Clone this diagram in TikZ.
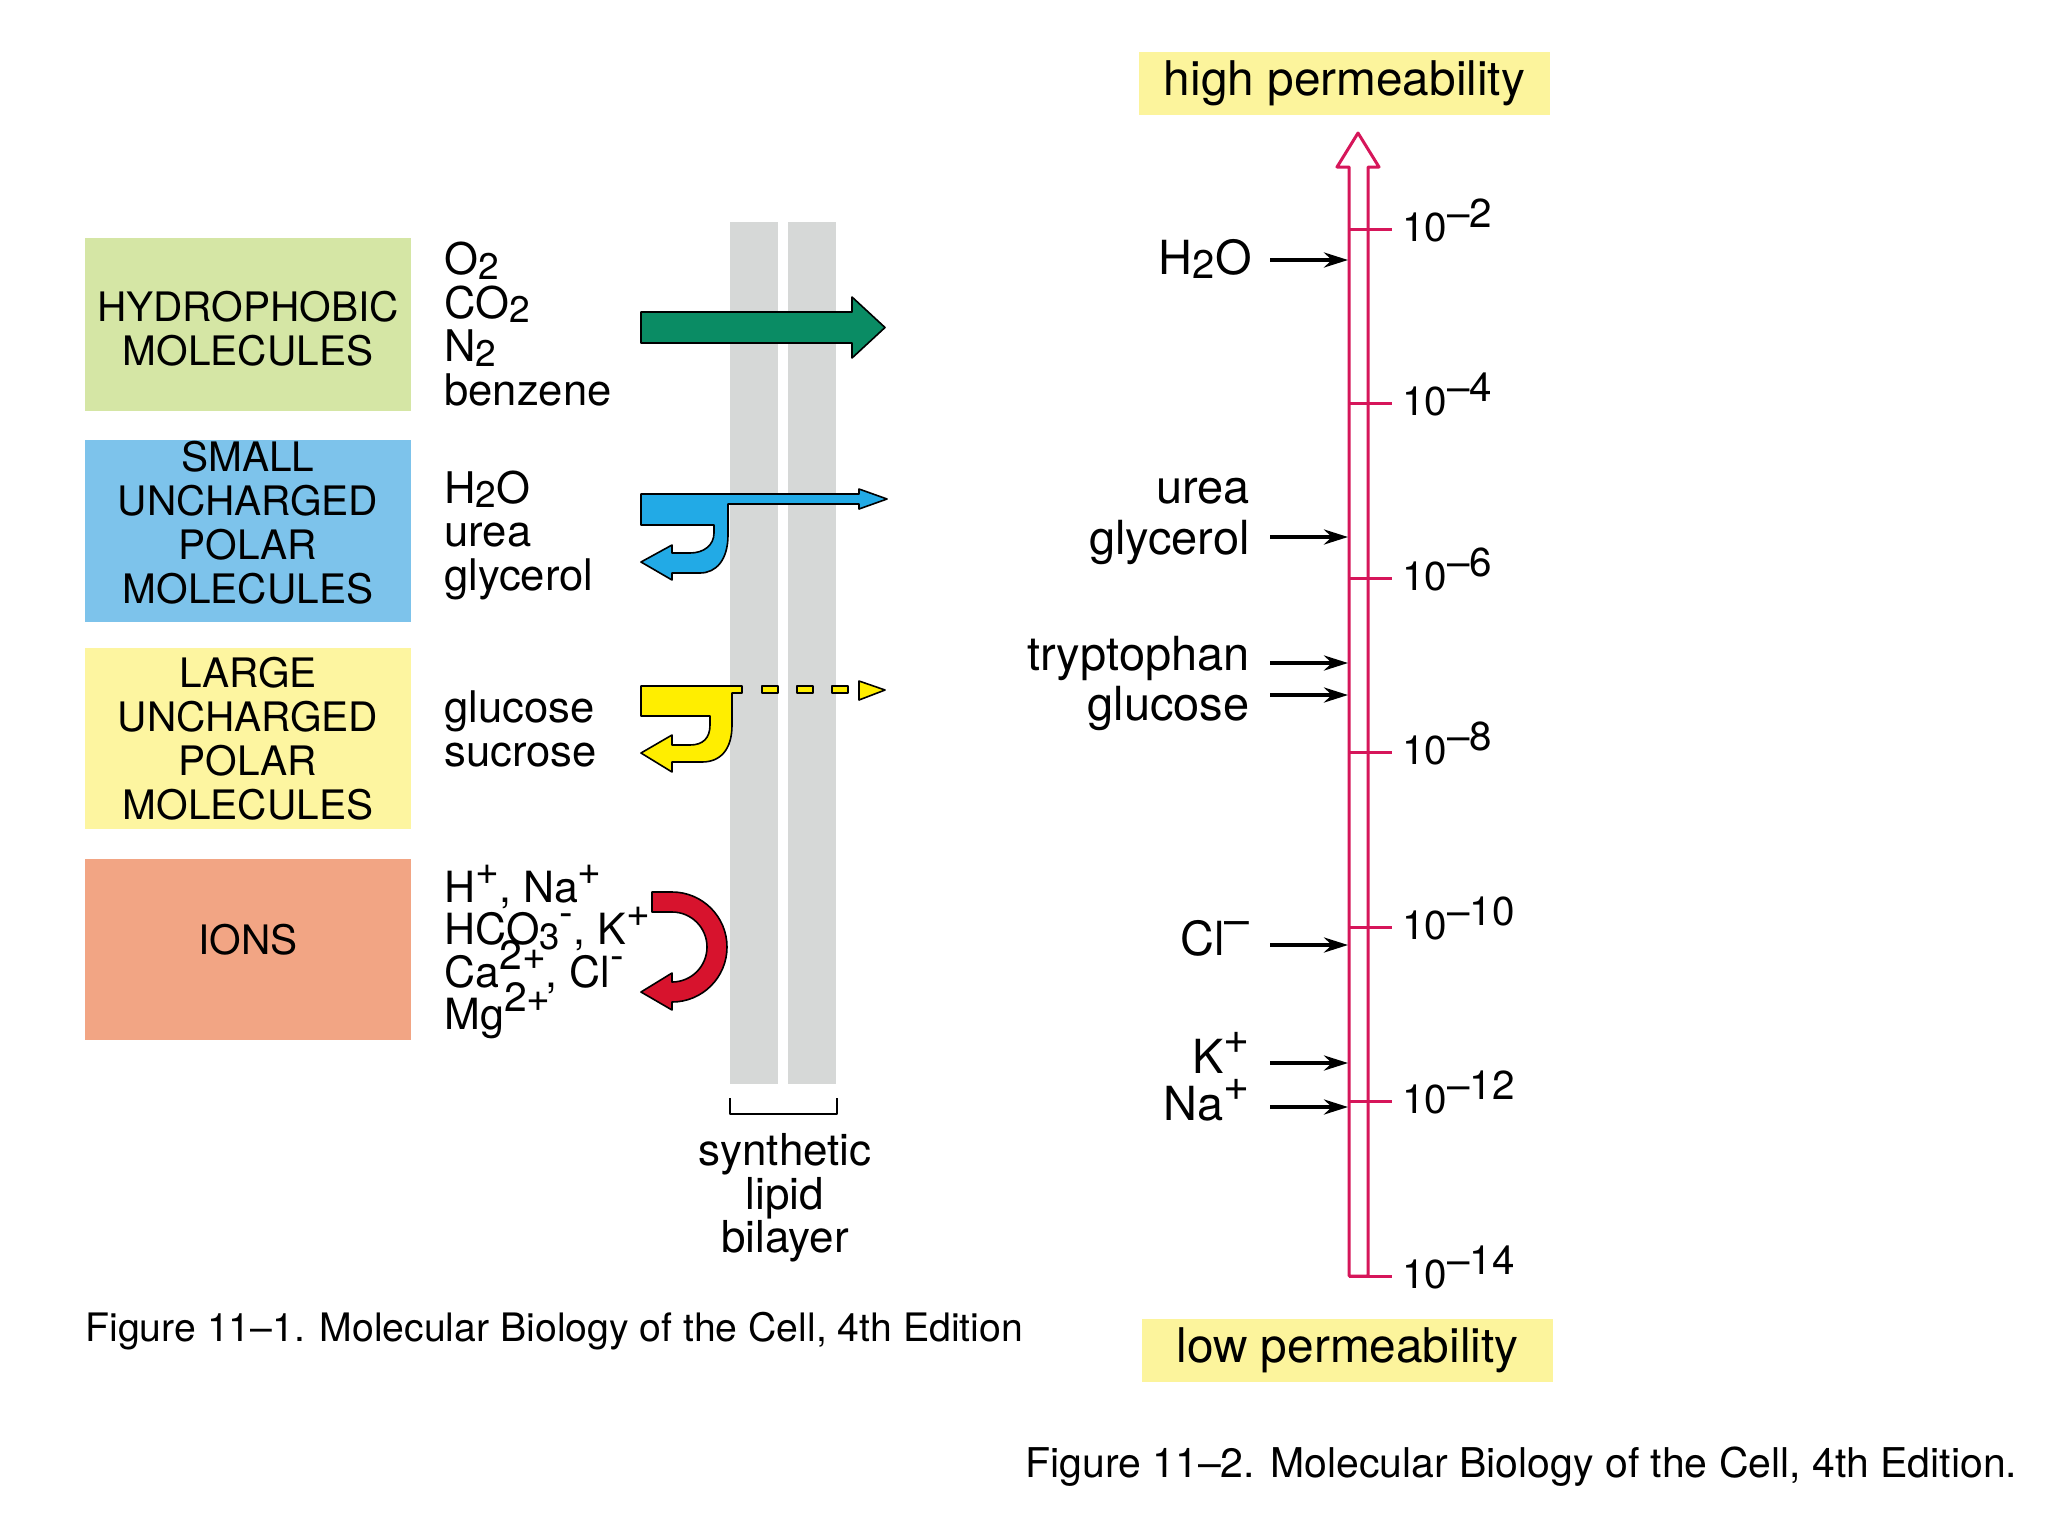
\documentclass[tikz,border=0pt]{standalone}
\usepackage{fontspec}
\setmainfont{TeX Gyre Heros}
\usetikzlibrary{arrows.meta}

\definecolor{hydrobox}{RGB}{213,230,165}
\definecolor{polarbox}{RGB}{125,195,235}
\definecolor{largebox}{RGB}{253,245,160}
\definecolor{ionbox}{RGB}{242,165,132}
\definecolor{permbox}{RGB}{252,244,156}
\definecolor{bilayergray}{RGB}{214,216,215}
\definecolor{hydroarrow}{RGB}{10,140,100}
\definecolor{polararrow}{RGB}{34,170,230}
\definecolor{largearrow}{RGB}{255,238,0}
\definecolor{ionarrow}{RGB}{215,19,45}
\definecolor{scalered}{RGB}{214,22,90}

\newcommand\molsub[1]{\smash{\raisebox{-0.1em}{\scalebox{0.85}{#1}}}}
\newcommand\molsup[1]{\smash{\raisebox{0.42em}{\scalebox{0.95}{#1}}}}

\tikzset{
  catbox/.style={minimum width=163pt, inner sep=0pt, align=center, font=\fontsize{20.3}{22}\selectfont},
  mollist/.style={anchor=west, inner sep=0pt, align=left, font=\fontsize{21.8}{21.75}\selectfont},
  permlabel/.style={fill=permbox, minimum width=205.5pt, minimum height=31.5pt, inner sep=0pt, font=\fontsize{23.9}{25}\selectfont},
  rlabel/.style={anchor=base east, inner sep=0pt, font=\fontsize{23.5}{25.5}\selectfont},
  decade/.style={anchor=base west, inner sep=0pt, font=\fontsize{20.2}{22}\selectfont},
  caption/.style={anchor=base west, inner sep=0pt},
  shapeline/.style={draw=black, line width=0.8pt},
  scaleline/.style={draw=scalered, line width=1.5pt},
  marker/.style={line width=2pt, -{Stealth[length=12pt, width=7.5pt]}}
}

\begin{document}
\begin{tikzpicture}[x=0.5pt, y=-0.5pt, line join=round]
  %%%%% START %%%%%
  \fill[white] (0,0) rectangle (2048,1536);
  \useasboundingbox (0,0) rectangle (2048,1536);

  % category boxes
  \node[catbox, fill=hydrobox, minimum height=86.5pt, text height=41.8pt] (hydro) at (248,324.5) {HYDROPHOBIC\\MOLECULES};
  \node[catbox, fill=polarbox, minimum height=91pt, text depth=9pt] (small) at (248,531) {SMALL\\UNCHARGED\\POLAR\\MOLECULES};
  \node[catbox, fill=largebox, minimum height=90.5pt] (large) at (248,738.5) {LARGE\\UNCHARGED\\POLAR\\MOLECULES};
  \node[catbox, fill=ionbox, minimum height=90.5pt, text depth=10pt] (ions) at (248,949.5) {IONS};

  % molecule lists
  \node[mollist] (hydrolist) at (444,324) {O\molsub{2}\\CO\molsub{2}\\N\molsub{2}\\benzene};
  \node[mollist] (smalllist) at (444,535) {H\molsub{2}O\\urea\\glycerol};
  \node[mollist] (largelist) at (444,729) {glucose\\sucrose};
  \node[mollist, font=\fontsize{21.5}{21.2}\selectfont] (ionlist) at (444,955)
    {H\molsup{+}, Na\molsup{+}\\HCO\molsub{3}\molsup{-}, K\molsup{+}\\Ca\molsup{2+}, Cl\molsup{-}\\Mg\molsup{2+}};

  % bilayer
  \fill[bilayergray] (730,222) rectangle (778,1084);
  \fill[bilayergray] (788,222) rectangle (836,1084);
  \draw[line width=1pt] (730,1098) -- (730,1114) -- (837,1114) -- (837,1098);
  \node[inner sep=0pt, align=center, font=\fontsize{22}{21.8}\selectfont] (bilayer) at (785,1198) {synthetic\\lipid\\bilayer};

  % hydrophobic: straight through
  \filldraw[shapeline, fill=hydroarrow] (641,312) -- (852,312) -- (852,297) -- (885,327.5)
    -- (852,358) -- (852,343) -- (641,343) -- cycle;

  % small polar: mostly back, some through
  \filldraw[shapeline, fill=polararrow] (641,494) -- (859,494) -- (859,489) -- (887,499)
    -- (859,509) -- (859,504) -- (728,504) -- (728,535) .. controls (728,560) and (716,573) .. (700,573)
    -- (672,573) -- (672,580) -- (641,562) -- (672,545) -- (672,553) -- (690,553)
    .. controls (704,553) and (714,545) .. (714,533) -- (714,525) -- (641,525) -- cycle;

  % large polar: back, a trace through
  \filldraw[shapeline, fill=largearrow] (641,686) -- (742,686) -- (742,693) -- (732,693)
    -- (732,725) .. controls (732,750) and (720,762) .. (702,762) -- (672,762) -- (672,772)
    -- (641,753) -- (672,735) -- (672,745) -- (690,745) .. controls (703,745) and (710,738) .. (710,725)
    -- (710,716) -- (641,716) -- cycle;
  \foreach \dx in {762,797,832}
    \filldraw[shapeline, fill=largearrow] (\dx,686) rectangle ++(16,7);
  \filldraw[shapeline, fill=largearrow] (859,681) -- (885,690) -- (859,700) -- cycle;

  % ions: turned back
  \filldraw[shapeline, fill=ionarrow] (652,892) -- (672,892) arc (-90:90:55) -- (672,1010)
    -- (641,992) -- (672,973) -- (672,982) arc (90:-90:35) -- (652,912) -- cycle;

  \node[caption, font=\fontsize{19.6}{22}\selectfont] (cap1) at (85,1341) {Figure 11–1. Molecular Biology of the Cell, 4th Edition};

  % permeability scale
  \node[permlabel] (high) at (1344.5,83.5) {high permeability};
  \node[permlabel] (low) at (1347.5,1350.5) {low permeability};
  \draw[scaleline] (1349,1276) -- (1349,167) -- (1337,167) -- (1358,133) -- (1379,167)
    -- (1368,167) -- (1368,1276) -- cycle;
  \foreach \e [count=\i from 0] in {2,4,...,14} {
    \draw[scaleline] (1349,{229+174.5*\i}) -- (1392,{229+174.5*\i});
    \node[decade] (d\e) at (1402,{241+174.5*\i}) {10\raisebox{7pt}{–\e}};
  }

  \node[rlabel] (wat) at (1252,274) {H\molsub{2}O};
  \node[rlabel] (urea) at (1250,503) {urea};
  \node[rlabel] (glyc) at (1250,554) {glycerol};
  \node[rlabel] (tryp) at (1250,670) {tryptophan};
  \node[rlabel] (gluc) at (1250,720) {glucose};
  \node[rlabel] (chl) at (1250,955) {Cl\molsup{–}};
  \node[rlabel] (pot) at (1250,1073) {K\molsup{+}};
  \node[rlabel] (sod) at (1250,1120) {Na\molsup{+}};
  \foreach \n/\y in {wat/260, glyc/537, tryp/663, gluc/695, chl/945, pot/1063, sod/1107} {
    \coordinate (s-\n) at (1270,\y);
    \coordinate (e-\n) at (1348,\y);
    \draw[marker] (s-\n) -- (e-\n);
  }

  \node[caption, font=\fontsize{20.5}{22}\selectfont] (cap2) at (1025,1477) {Figure 11–2. Molecular Biology of the Cell, 4th Edition.};
  %%%%% END %%%%%
\end{tikzpicture}
\end{document}
